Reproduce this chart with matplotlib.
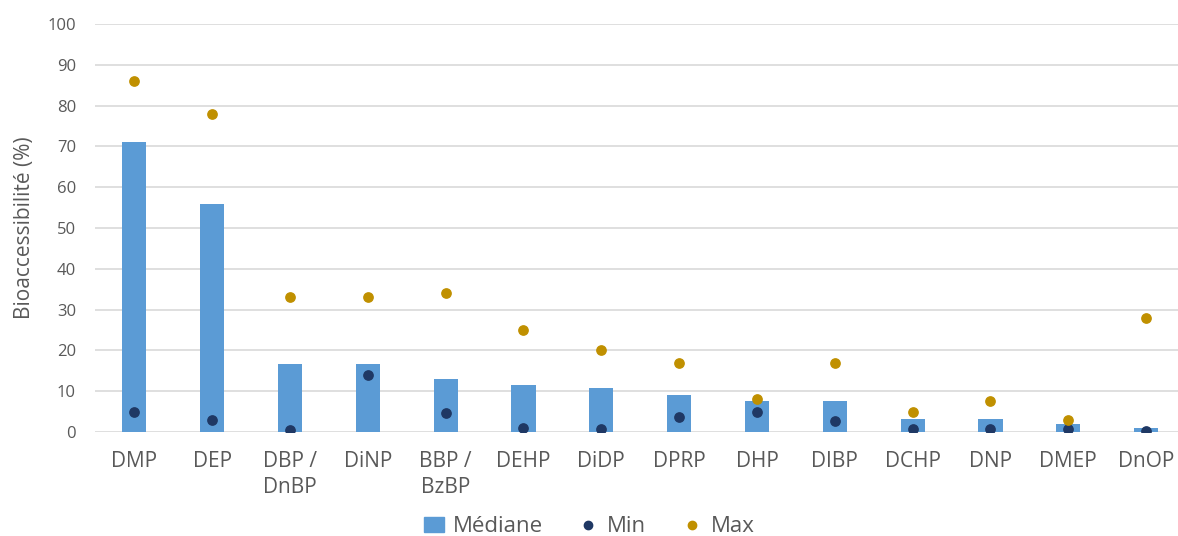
import numpy as np
import matplotlib.pyplot as plt
from matplotlib.lines import Line2D
from matplotlib.patches import Patch

# Bioaccessibilite des phtalates : mediane, min et max (%)
composes = ['DMP', 'DEP', 'DBP /\nDnBP', 'DiNP', 'BBP /\nBzBP', 'DEHP', 'DiDP',
            'DPRP', 'DHP', 'DIBP', 'DCHP', 'DNP', 'DMEP', 'DnOP']
mediane = [71, 56, 16.7, 16.7, 13, 11.6, 10.8, 9, 7.6, 7.6, 3.2, 3.2, 2, 1]
val_min = [5, 3, 0.5, 14, 4.7, 1.1, 0.8, 3.6, 5, 2.7, 0.8, 0.8, 0.8, 0.2]
val_max = [86, 78, 33, 33, 34, 25, 20, 17, 8, 17, 5, 7.6, 3, 28]

c_bar = '#5B9BD5'
c_min = '#1F3864'
c_max = '#C09000'
gris = '#595959'

plt.rcParams['font.family'] = ['Open Sans', 'DejaVu Sans']

fig = plt.figure(figsize=(11.78, 5.36), dpi=100)
ax = fig.add_axes([0.081, 0.194, 0.925, 0.761])

x = np.arange(len(composes))
ax.bar(x, mediane, width=0.31, color=c_bar, zorder=2)
ax.scatter(x, val_min, s=45, color=c_min, zorder=3)
ax.scatter(x, val_max, s=45, color=c_max, zorder=3)

ax.set_xlim(-0.5, len(composes) - 0.5)
ax.set_ylim(0, 100)
ax.set_yticks(np.arange(0, 101, 10))
ax.yaxis.grid(True, color='#D9D9D9', linewidth=1.2, zorder=0)
ax.set_axisbelow(True)
for s in ax.spines.values():
    s.set_visible(False)
ax.tick_params(length=0)
ax.tick_params(axis='y', labelsize=12, colors=gris, pad=14)
ax.tick_params(axis='x', labelsize=15, colors=gris, pad=14)
ax.set_xticks(x)
ax.set_xticklabels(composes, va='top', linespacing=1.3)
ax.set_ylabel('Bioaccessibilité (%)', fontsize=15, color=gris, labelpad=9)

poignees = [Patch(color=c_bar),
            Line2D([], [], marker='o', linestyle='none', color=c_min, markersize=6),
            Line2D([], [], marker='o', linestyle='none', color=c_max, markersize=6)]
fig.legend(poignees, ['Médiane', 'Min', 'Max'], loc='lower center',
           bbox_to_anchor=(0.5, -0.04), ncol=3, frameon=False, fontsize=16,
           labelcolor=gris, handlelength=0.9, handletextpad=0.4, columnspacing=1.6)

fig.savefig('out.png', dpi=100)
